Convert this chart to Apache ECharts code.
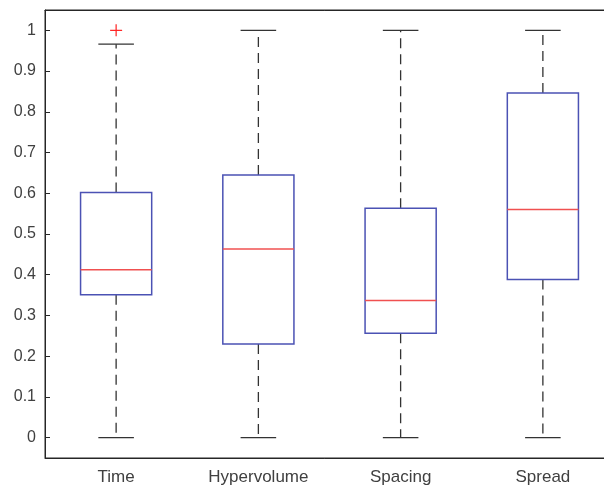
<!DOCTYPE html>
<html>
<head>
<meta charset="utf-8">
<script src="https://cdn.jsdelivr.net/npm/echarts@6/dist/echarts.min.js"></script>
<style>
  html, body { margin: 0; padding: 0; background: #fff; }
  #main { width: 604px; height: 488px; }
</style>
</head>
<body>
<div id="main"></div>
<script>
// box plot stats
const categories = ['Time', 'Hypervolume', 'Spacing', 'Spread'];
const lowerWhisker = [0, 0, 0, 0];
const q1 = [0.351, 0.230, 0.256, 0.388];
const median = [0.412, 0.463, 0.337, 0.560];
const q3 = [0.602, 0.645, 0.563, 0.846];
const upperWhisker = [0.966, 1, 1, 1];
// outliers: [category index, value]
const outliers = [[0, 1.0]];
const yTicks = [0, 0.1, 0.2, 0.3, 0.4, 0.5, 0.6, 0.7, 0.8, 0.9, 1];

const axisColor = '#262626';
const textColor = '#404040';

let chart = echarts.init(document.getElementById('main'));

const boxData = categories.map(function (c, i) {
    return [i, lowerWhisker[i], q1[i], median[i], q3[i], upperWhisker[i]];
});

function renderBox(params, api) {
    let idx = api.value(0);
    let band = api.size([1, 0])[0];
    let half = band * 0.25;
    let capHalf = half * 0.5;
    let x = api.coord([idx, 0])[0];
    let yLw = api.coord([idx, api.value(1)])[1];
    let yQ1 = api.coord([idx, api.value(2)])[1];
    let yMed = api.coord([idx, api.value(3)])[1];
    let yQ3 = api.coord([idx, api.value(4)])[1];
    let yUw = api.coord([idx, api.value(5)])[1];
    let dash = { stroke: '#333', lineWidth: 1.3, lineDash: [10, 6] };
    let solid = { stroke: '#333', lineWidth: 1.3 };
    return {
        type: 'group',
        children: [
            { type: 'line', shape: { x1: x, y1: yQ3, x2: x, y2: yUw }, style: dash },
            { type: 'line', shape: { x1: x, y1: yQ1, x2: x, y2: yLw }, style: dash },
            { type: 'line', shape: { x1: x - capHalf, y1: yUw, x2: x + capHalf, y2: yUw }, style: solid },
            { type: 'line', shape: { x1: x - capHalf, y1: yLw, x2: x + capHalf, y2: yLw }, style: solid },
            {
                type: 'rect',
                shape: { x: x - half, y: yQ3, width: half * 2, height: yQ1 - yQ3 },
                style: { fill: '#fff', stroke: '#4b52b4', lineWidth: 1.5 }
            },
            {
                type: 'line',
                shape: { x1: x - half, y1: yMed, x2: x + half, y2: yMed },
                style: { stroke: '#f05050', lineWidth: 1.5 }
            }
        ]
    };
}

function renderOutlier(params, api) {
    let p = api.coord([api.value(0), api.value(1)]);
    let s = 6;
    let st = { stroke: '#ff2020', lineWidth: 1.2 };
    return {
        type: 'group',
        children: [
            { type: 'line', shape: { x1: p[0] - s, y1: p[1], x2: p[0] + s, y2: p[1] }, style: st },
            { type: 'line', shape: { x1: p[0], y1: p[1] - s, x2: p[0], y2: p[1] + s }, style: st }
        ]
    };
}

let option = {
    animation: false,
    grid: {
        left: 45,
        top: 10,
        right: -10,
        bottom: 30,
        outerBoundsMode: 'none',
        show: true,
        borderColor: axisColor,
        borderWidth: 1,
        backgroundColor: '#fff'
    },
    xAxis: [
        {
            type: 'category',
            data: categories,
            position: 'bottom',
            boundaryGap: true,
            axisLine: { onZero: false, lineStyle: { color: axisColor, width: 1 } },
            axisTick: { inside: true, length: 5, alignWithLabel: true, lineStyle: { color: axisColor } },
            axisLabel: {
                color: textColor,
                fontSize: 17,
                fontFamily: 'Liberation Sans, Arial, sans-serif',
                margin: 11
            },
            splitLine: { show: false }
        },
        {
            type: 'category',
            data: categories,
            position: 'top',
            boundaryGap: true,
            axisLine: { onZero: false, lineStyle: { color: axisColor, width: 1 } },
            axisTick: { inside: true, length: 5, alignWithLabel: true, lineStyle: { color: axisColor } },
            axisLabel: { show: false },
            splitLine: { show: false }
        }
    ],
    yAxis: {
        type: 'value',
        min: -0.05,
        max: 1.05,
        axisLine: { show: true, onZero: false, lineStyle: { color: axisColor, width: 1 } },
        axisTick: {
            show: true,
            inside: true,
            length: 5,
            customValues: yTicks,
            lineStyle: { color: axisColor }
        },
        axisLabel: {
            customValues: yTicks,
            color: textColor,
            fontSize: 16,
            fontFamily: 'Liberation Sans, Arial, sans-serif',
            margin: 9,
            formatter: function (v) { return String(Math.round(v * 10) / 10); }
        },
        splitLine: { show: false }
    },
    series: [
        {
            type: 'custom',
            renderItem: renderBox,
            data: boxData,
            encode: { x: 0, y: [1, 2, 3, 4, 5] },
            z: 3
        },
        {
            type: 'custom',
            renderItem: renderOutlier,
            data: outliers,
            encode: { x: 0, y: 1 },
            z: 4
        }
    ]
};

option && chart.setOption(option);
</script>
</body>
</html>
